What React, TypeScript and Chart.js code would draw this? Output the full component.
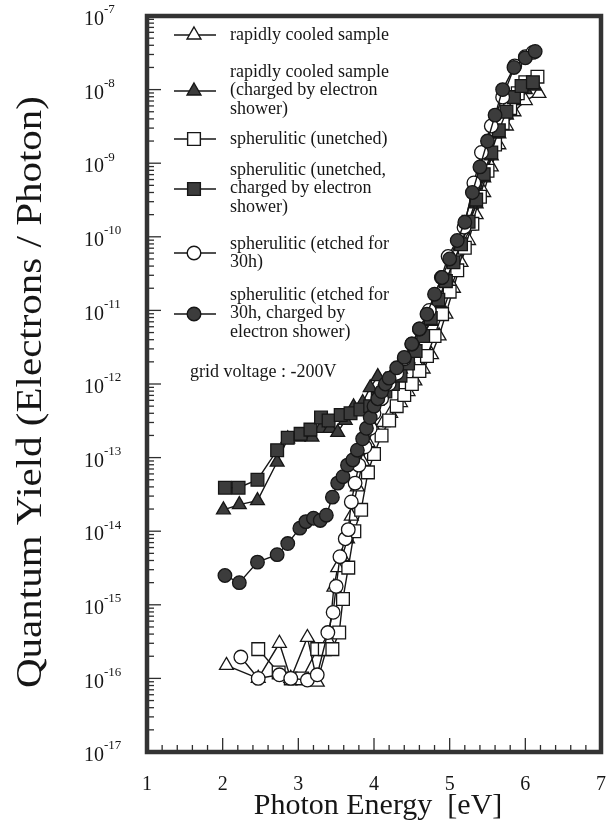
import React, { useEffect, useRef } from 'react';
import { Chart, registerables } from 'chart.js';

Chart.register(...registerables);

const SERIF = '"Liberation Serif", "Times New Roman", serif';

// Photon energy [eV] and quantum yield [electrons / photon]
const rcOpenX = [2.05, 2.47, 2.75, 2.9, 3.12, 3.25, 3.4, 3.47, 3.52, 3.58, 3.65, 3.7, 3.78, 3.85, 3.92, 4.0, 4.12, 4.22, 4.35, 4.45, 4.54, 4.65, 4.76, 4.86, 4.95, 5.05, 5.15, 5.25, 5.35, 5.45, 5.55, 5.65, 5.75, 5.85, 6.0, 6.18];
const rcOpenY = [1.5e-16, 1.0e-16, 3.0e-16, 1.0e-16, 3.6e-16, 8.9e-17, 3.2e-16, 1.74e-15, 3.2e-15, 4.5e-15, 7.9e-15, 1.6e-14, 4.0e-14, 8.9e-14, 1.6e-13, 2.5e-13, 3.0e-13, 4.0e-13, 5.6e-13, 7.9e-13, 1.1e-12, 1.6e-12, 2.5e-12, 4.5e-12, 8.9e-12, 2.0e-11, 4.5e-11, 8.9e-11, 2.0e-10, 4.0e-10, 8.9e-10, 1.78e-9, 3.2e-9, 5.0e-9, 7.1e-9, 8.9e-9];

const rcChargedX = [2.01, 2.22, 2.46, 2.72, 2.86, 3.0, 3.18, 3.3, 3.42, 3.52, 3.62, 3.73, 3.85, 3.95, 4.05, 4.15, 4.25, 4.35, 4.45, 4.55, 4.65, 4.75, 4.85, 4.95, 5.05, 5.15, 5.25, 5.35, 5.45, 5.55, 5.65, 5.75, 5.85, 6.0, 6.12];
const rcChargedY = [1.95e-14, 2.3e-14, 2.6e-14, 8.7e-14, 1.8e-13, 1.9e-13, 1.9e-13, 2.5e-13, 2.5e-13, 2.2e-13, 3.2e-13, 4.9e-13, 5.6e-13, 8.9e-13, 1.26e-12, 1.12e-12, 1.4e-12, 1.6e-12, 2.2e-12, 3.2e-12, 4.5e-12, 7.1e-12, 1.26e-11, 2.5e-11, 4.5e-11, 7.9e-11, 1.4e-10, 2.8e-10, 6.3e-10, 1.26e-9, 2.5e-9, 4.5e-9, 7.1e-9, 1.0e-8, 1.12e-8];

const spOpenX = [2.47, 2.74, 2.9, 3.05, 3.25, 3.35, 3.45, 3.54, 3.59, 3.66, 3.74, 3.83, 3.92, 4.0, 4.1, 4.2, 4.3, 4.4, 4.5, 4.6, 4.7, 4.8, 4.9, 5.0, 5.1, 5.2, 5.3, 5.4, 5.5, 5.6, 5.7, 5.8, 5.9, 6.0, 6.16];
const spOpenY = [2.5e-16, 1.2e-16, 1.0e-16, 1.0e-16, 2.5e-16, 2.5e-16, 2.5e-16, 4.2e-16, 1.2e-15, 3.2e-15, 1.0e-14, 1.95e-14, 6.3e-14, 1.12e-13, 2.0e-13, 3.2e-13, 5.0e-13, 7.1e-13, 1.0e-12, 1.5e-12, 2.4e-12, 4.5e-12, 8.9e-12, 1.8e-11, 3.5e-11, 7.1e-11, 1.5e-10, 3.5e-10, 7.9e-10, 1.8e-9, 3.5e-9, 5.6e-9, 8.9e-9, 1.26e-8, 1.5e-8];

const spChargedX = [2.03, 2.21, 2.46, 2.72, 2.86, 3.03, 3.16, 3.3, 3.4, 3.56, 3.69, 3.82, 3.95, 4.05, 4.15, 4.25, 4.35, 4.45, 4.55, 4.65, 4.75, 4.85, 4.95, 5.05, 5.15, 5.25, 5.35, 5.45, 5.55, 5.65, 5.75, 5.85, 5.95, 6.1];
const spChargedY = [3.9e-14, 3.9e-14, 5.0e-14, 1.26e-13, 1.86e-13, 2.1e-13, 2.4e-13, 3.5e-13, 3.2e-13, 3.8e-13, 4.0e-13, 4.5e-13, 5.0e-13, 6.3e-13, 7.9e-13, 1.0e-12, 1.3e-12, 1.9e-12, 2.8e-12, 4.5e-12, 7.9e-12, 1.4e-11, 2.5e-11, 4.5e-11, 7.9e-11, 1.6e-10, 3.2e-10, 7.1e-10, 1.4e-9, 2.8e-9, 5.0e-9, 7.9e-9, 1.12e-8, 1.26e-8];

const etOpenX = [2.24, 2.47, 2.75, 2.9, 3.12, 3.25, 3.39, 3.46, 3.5, 3.55, 3.62, 3.66, 3.7, 3.75, 3.8, 3.88, 3.95, 4.0, 4.1, 4.2, 4.3, 4.4, 4.5, 4.6, 4.73, 4.89, 4.98, 5.19, 5.32, 5.42, 5.55, 5.7, 5.86, 6.0, 6.1];
const etOpenY = [1.95e-16, 1.0e-16, 1.12e-16, 1.0e-16, 9.5e-17, 1.12e-16, 4.2e-16, 7.9e-16, 1.78e-15, 4.5e-15, 7.9e-15, 1.05e-14, 2.5e-14, 4.5e-14, 7.9e-14, 1.4e-13, 2.5e-13, 4.0e-13, 6.3e-13, 1.0e-12, 1.4e-12, 2.2e-12, 3.5e-12, 5.6e-12, 1.0e-11, 2.8e-11, 5.4e-11, 1.35e-10, 5.4e-10, 1.4e-9, 3.2e-9, 7.9e-9, 2.1e-8, 2.8e-8, 3.2e-8];

const etChargedX = [2.03, 2.22, 2.46, 2.72, 2.86, 3.02, 3.1, 3.2, 3.29, 3.37, 3.45, 3.52, 3.59, 3.65, 3.72, 3.78, 3.85, 3.9, 3.95, 4.0, 4.05, 4.1, 4.15, 4.2, 4.3, 4.4, 4.5, 4.6, 4.7, 4.8, 4.9, 5.0, 5.1, 5.2, 5.3, 5.4, 5.5, 5.6, 5.7, 5.85, 6.0, 6.13];
const etChargedY = [2.5e-15, 2.0e-15, 3.8e-15, 4.8e-15, 6.8e-15, 1.1e-14, 1.35e-14, 1.5e-14, 1.4e-14, 1.65e-14, 2.9e-14, 4.5e-14, 5.5e-14, 7.9e-14, 9.3e-14, 1.26e-13, 1.8e-13, 2.5e-13, 3.5e-13, 5.0e-13, 6.3e-13, 7.9e-13, 1.0e-12, 1.2e-12, 1.66e-12, 2.3e-12, 3.5e-12, 5.6e-12, 8.9e-12, 1.66e-11, 2.8e-11, 5.0e-11, 8.9e-11, 1.58e-10, 4.0e-10, 8.9e-10, 2.0e-9, 4.5e-9, 1.0e-8, 2.0e-8, 2.7e-8, 3.3e-8];

const yTickExponents = [-7, -8, -9, -10, -11, -12, -13, -14, -15, -16, -17];
const xTickLabels = [1, 2, 3, 4, 5, 6, 7];

const legendLines = [
  ['rapidly cooled sample'],
  ['rapidly cooled sample', '(charged by electron', 'shower)'],
  ['spherulitic (unetched)'],
  ['spherulitic (unetched,', 'charged by electron', 'shower)'],
  ['spherulitic (etched for', '30h)'],
  ['spherulitic (etched for', '30h, charged by', 'electron shower)'],
];
const noteText = 'grid voltage : -200V';
const xTitle = 'Photon Energy  [eV]';
const yTitle = 'Quantum Yield (Electrons / Photon)';

const INK = '#161616';
const FILL = '#3c3c3c';

type Style = { shape: 'triangle' | 'rect' | 'circle'; filled: boolean; r: number };
const styles: Style[] = [
  { shape: 'triangle', filled: false, r: 8 },
  { shape: 'triangle', filled: true, r: 8 },
  { shape: 'rect', filled: false, r: 9 },
  { shape: 'rect', filled: true, r: 9 },
  { shape: 'circle', filled: false, r: 6.8 },
  { shape: 'circle', filled: true, r: 6.8 },
];
const seriesX = [rcOpenX, rcChargedX, spOpenX, spChargedX, etOpenX, etChargedX];
const seriesY = [rcOpenY, rcChargedY, spOpenY, spChargedY, etOpenY, etChargedY];
const drawOrder = [5, 4, 3, 2, 1, 0];

// legend layout: [markerY, first text line Y]
const legendPos = [
  [35, 35],
  [91, 72],
  [139, 139],
  [189, 170],
  [253, 244],
  [314, 295],
];

function drawMarker(ctx: CanvasRenderingContext2D, s: Style, x: number, y: number) {
  ctx.beginPath();
  if (s.shape === 'circle') {
    ctx.arc(x, y, s.r, 0, Math.PI * 2);
  } else if (s.shape === 'rect') {
    const h = s.r * Math.SQRT1_2;
    ctx.rect(x - h, y - h, 2 * h, 2 * h);
  } else {
    ctx.moveTo(x, y - s.r);
    ctx.lineTo(x + s.r * Math.sin(Math.PI / 3), y + s.r * 0.5);
    ctx.lineTo(x - s.r * Math.sin(Math.PI / 3), y + s.r * 0.5);
    ctx.closePath();
  }
  ctx.fillStyle = s.filled ? FILL : '#ffffff';
  ctx.fill();
  ctx.lineWidth = 1.4;
  ctx.strokeStyle = INK;
  ctx.stroke();
}

const decorPlugin = {
  id: 'decor',
  afterDatasetsDraw(chart: any) {
    const { ctx, chartArea } = chart;
    const xs = chart.scales.x;
    const ys = chart.scales.y;
    ctx.save();
    ctx.strokeStyle = '#2e2e2e';
    ctx.lineWidth = 1.3;
    // y ticks (inside, left)
    for (let e = -17; e <= -7; e++) {
      const py = ys.getPixelForValue(Math.pow(10, e));
      ctx.beginPath();
      ctx.moveTo(chartArea.left, py);
      ctx.lineTo(chartArea.left + 14, py);
      ctx.stroke();
      if (e < -7) {
        for (let m = 2; m <= 9; m++) {
          const my = ys.getPixelForValue(m * Math.pow(10, e));
          ctx.beginPath();
          ctx.moveTo(chartArea.left, my);
          ctx.lineTo(chartArea.left + 7, my);
          ctx.stroke();
        }
      }
    }
    // x ticks (inside, bottom)
    for (let i = 0; i <= 30; i++) {
      const v = 1 + i * 0.2;
      const px = xs.getPixelForValue(v);
      const major = i % 5 === 0;
      ctx.beginPath();
      ctx.moveTo(px, chartArea.bottom);
      ctx.lineTo(px, chartArea.bottom - (major ? 14 : 7));
      ctx.stroke();
    }
    // frame
    ctx.strokeStyle = '#333333';
    ctx.lineWidth = 4.5;
    ctx.strokeRect(chartArea.left, chartArea.top, chartArea.right - chartArea.left, chartArea.bottom - chartArea.top);
    ctx.restore();
  },
  afterDraw(chart: any) {
    const { ctx } = chart;
    const xs = chart.scales.x;
    const ys = chart.scales.y;
    ctx.save();
    ctx.fillStyle = INK;
    // y tick labels 10^n
    yTickExponents.forEach((e) => {
      const py = ys.getPixelForValue(Math.pow(10, e));
      ctx.font = `20px ${SERIF}`;
      ctx.textAlign = 'right';
      ctx.textBaseline = 'middle';
      ctx.fillText('10', 104, py + 4);
      ctx.font = `13px ${SERIF}`;
      ctx.textAlign = 'left';
      ctx.fillText(String(e), 104, py - 6);
    });
    // x tick labels
    ctx.font = `20px ${SERIF}`;
    ctx.textAlign = 'center';
    ctx.textBaseline = 'middle';
    xTickLabels.forEach((v) => {
      ctx.fillText(String(v), xs.getPixelForValue(v), 785);
    });
    // axis titles
    ctx.font = `30px ${SERIF}`;
    ctx.fillText(xTitle, 378, 806);
    ctx.save();
    ctx.translate(32, 392);
    ctx.rotate(-Math.PI / 2);
    ctx.font = `36px ${SERIF}`;
    const w = ctx.measureText(yTitle).width;
    ctx.scale(592 / w, 1);
    ctx.fillText(yTitle, 0, 0);
    ctx.restore();

    // legend
    ctx.font = `18px ${SERIF}`;
    ctx.textAlign = 'left';
    ctx.textBaseline = 'middle';
    legendLines.forEach((lines, i) => {
      const [my, ty] = legendPos[i];
      ctx.beginPath();
      ctx.moveTo(174, my);
      ctx.lineTo(216, my);
      ctx.lineWidth = 1.4;
      ctx.strokeStyle = INK;
      ctx.stroke();
      drawMarker(ctx, styles[i], 194, my);
      ctx.fillStyle = INK;
      lines.forEach((t, k) => ctx.fillText(t, 230, ty + k * 18.5));
    });
    ctx.fillText(noteText, 190, 372);
    ctx.restore();
  },
};

export default function App() {
  const ref = useRef<HTMLCanvasElement | null>(null);
  useEffect(() => {
    if (!ref.current) return;
    const datasets = seriesX.map((xsArr, i) => {
      const s = styles[i];
      return {
        label: legendLines[i].join(' '),
        data: xsArr.map((x, k) => ({ x, y: seriesY[i][k] })),
        showLine: true,
        tension: 0,
        borderColor: INK,
        borderWidth: 1.4,
        pointStyle: s.shape,
        pointRadius: s.r,
        pointBackgroundColor: s.filled ? FILL : '#ffffff',
        pointBorderColor: INK,
        pointBorderWidth: 1.3,
        order: drawOrder[i],
        clip: false as any,
      };
    });
    const chart = new Chart(ref.current, {
      type: 'line',
      data: { datasets },
      options: {
        animation: false,
        responsive: false,
        devicePixelRatio: 1,
        layout: { padding: { left: 147, right: 11, top: 16, bottom: 73 } },
        plugins: { legend: { display: false }, tooltip: { enabled: false } },
        scales: {
          x: { type: 'linear', min: 1, max: 7, display: false },
          y: { type: 'logarithmic', min: 1e-17, max: 1e-7, display: false },
        },
      },
      plugins: [decorPlugin],
    });
    return () => chart.destroy();
  }, []);
  return (
    <div style={{ position: 'absolute', left: 0, top: 0, width: 612, height: 825, background: '#fff' }}>
      <canvas ref={ref} width={612} height={825} style={{ display: 'block' }} />
    </div>
  );
}
